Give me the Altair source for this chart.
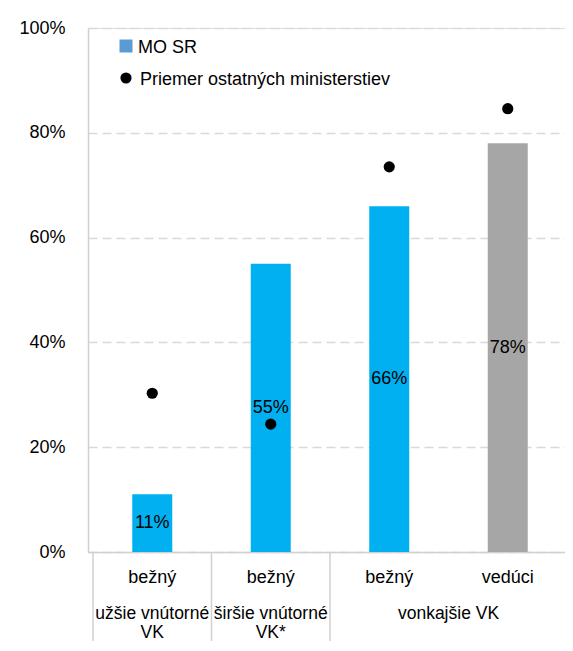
import altair as alt
import pandas as pd

# ---- data ----
categories = ["bežný", "bežný", "bežný", "vedúci"]
mo_sr = [11, 55, 66, 78]
priemer = [30.3, 24.4, 73.5, 84.6]
bar_colors = ["#00B0F0", "#00B0F0", "#00B0F0", "#A6A6A6"]
group_labels = ["užšie vnútorné\nVK", "širšie vnútorné\nVK*", "vonkajšie VK"]
group_start = [0, 1, 2]
group_end = [1, 2, 4]
legend_labels = ["MO SR", "Priemer ostatných ministerstiev"]
y_ticks = [0, 20, 40, 60, 80, 100]

FONT = "Liberation Sans"
FS = 18
W, H = 484, 524

df = pd.DataFrame({
    "pos": [i + 0.5 for i in range(len(categories))],
    "cat": categories,
    "mo": mo_sr,
    "pr": priemer,
    "color": bar_colors,
    "lbl": [f"{v}%" for v in mo_sr],
})
df["mid"] = df["mo"] / 2

gdf = pd.DataFrame({
    "label": [g.split("\n") for g in group_labels],
    "center": [(a + b) / 2 for a, b in zip(group_start, group_end)],
})
sdf = pd.DataFrame({"s": sorted(set(group_start + group_end))})

xscale = alt.Scale(domain=[0, 4], nice=False, zero=False)
yscale = alt.Scale(domain=[0, 100], nice=False)

base = alt.Chart(df)

bars = base.mark_bar(size=40).encode(
    x=alt.X("pos:Q", scale=xscale,
            axis=alt.Axis(labels=False, ticks=False, grid=False, title=None,
                          domainColor="#D0D0D0", domainWidth=1.5)),
    y=alt.Y("mo:Q", scale=yscale,
            axis=alt.Axis(values=y_ticks, labelExpr="datum.value + '%'",
                          title=None, ticks=False, labelPadding=23,
                          labelFontSize=FS, labelFont=FONT, labelColor="black",
                          grid=True, gridDash=[9, 5], gridColor="#D9D9D9",
                          gridWidth=1.5, domainColor="#D0D0D0", domainWidth=1.5)),
    color=alt.Color("color:N", scale=None),
)

bar_text = base.mark_text(fontSize=FS, font=FONT, color="black", baseline="middle").encode(
    x=alt.X("pos:Q", scale=xscale),
    y=alt.Y("mid:Q", scale=yscale),
    text="lbl:N",
)

dots = base.mark_point(filled=True, shape="circle", size=125, color="black", opacity=1).encode(
    x=alt.X("pos:Q", scale=xscale),
    y=alt.Y("pr:Q", scale=yscale),
)

cat_text = base.mark_text(fontSize=FS, font=FONT, color="black", baseline="alphabetic").encode(
    x=alt.X("pos:Q", scale=xscale),
    y=alt.value(H + 31),
    text="cat:N",
)

grp_text = alt.Chart(gdf).mark_text(fontSize=17.5, font=FONT, color="black",
                                    baseline="alphabetic", lineHeight=19).encode(
    x=alt.X("center:Q", scale=xscale),
    y=alt.value(H + 67),
    text="label",
)

seps = alt.Chart(sdf).mark_rule(color="#D0D0D0", strokeWidth=1.5).encode(
    x=alt.X("s:Q", scale=xscale),
    y=alt.value(H),
    y2=alt.value(H + 100),
)

ldf = pd.DataFrame({"label": legend_labels, "k": [0, 1]})
leg_sq = alt.Chart(ldf).transform_filter("datum.k == 0").mark_square(
    size=169, color="#5B9BD5", filled=True, opacity=1).encode(
    x=alt.value(38), y=alt.value(18))
leg_ci = alt.Chart(ldf).transform_filter("datum.k == 1").mark_point(
    shape="circle", size=125, color="black", filled=True, opacity=1).encode(
    x=alt.value(38), y=alt.value(50))
leg_t1 = alt.Chart(ldf).transform_filter("datum.k == 0").mark_text(
    fontSize=FS, font=FONT, color="black", align="left", baseline="alphabetic").encode(
    x=alt.value(50), y=alt.value(25), text="label:N")
leg_t2 = alt.Chart(ldf).transform_filter("datum.k == 1").mark_text(
    fontSize=FS, font=FONT, color="black", align="left", baseline="alphabetic").encode(
    x=alt.value(52), y=alt.value(57), text="label:N")

chart = alt.layer(
    bars, bar_text, dots, cat_text, grp_text, seps, leg_sq, leg_ci, leg_t1, leg_t2
).properties(
    width=W, height=H,
    autosize=alt.AutoSizeParams(type="none"),
    padding={"left": 80, "top": 20, "right": -7, "bottom": 89},
).configure_view(strokeWidth=0).configure(font=FONT)

chart.save("out.html", embed_options={"renderer": "svg", "actions": False})
